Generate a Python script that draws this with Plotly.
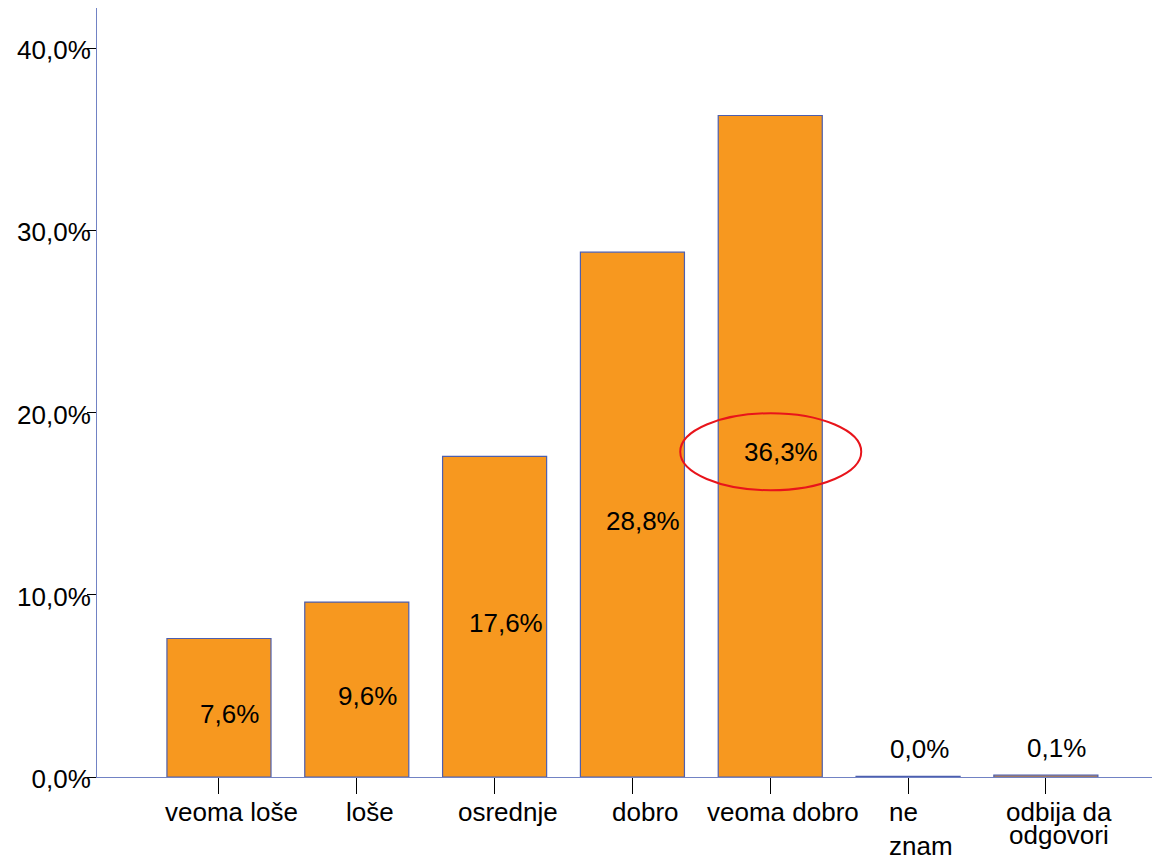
import numpy as np
import plotly.graph_objects as go

categories = ["veoma loše", "loše", "osrednje", "dobro", "veoma dobro", "ne znam", "odbija da odgovori"]
# "\n" = tight line break, "<br>" = normal line break (as in the original)
tick_labels = ["veoma loše", "loše", "osrednje", "dobro", "veoma dobro", "ne<br>znam", "odbija da\nodgovori"]
percent = [7.6, 9.6, 17.6, 28.8, 36.3, 0.04, 0.1]
y_ticks = [0, 10, 20, 30, 40]

FONT = "Liberation Sans, Arial, sans-serif"
ORANGE = "#F7981F"
AXIS_BLUE = "#7182C4"
BAR_EDGE = "#4D5FAE"


def fmt(v):
    return f"{v:.1f}".replace(".", ",") + "%"


fig = go.Figure(
    go.Bar(
        x=categories,
        y=percent,
        width=0.755,
        marker=dict(color=ORANGE, line=dict(color=BAR_EDGE, width=1.2)),
        hoverinfo="skip",
    )
)

# value labels: inside the bar (middle) or above it when the bar is too short
for cat, v in zip(categories, percent):
    if v >= 2:
        fig.add_annotation(x=cat, y=v / 2, text=fmt(v), showarrow=False,
                           xshift=11, yshift=-6, yanchor="middle")
    else:
        fig.add_annotation(x=cat, y=v, text=fmt(v), showarrow=False,
                           xshift=11, yshift=10, yanchor="bottom")

# category labels under the axis
for cat, lab in zip(categories, tick_labels):
    for j, line in enumerate(lab.split("\n")):
        fig.add_annotation(x=cat, y=0, text=line, showarrow=False, align="left",
                           xshift=13, yshift=-18 - 23 * j, yanchor="top")

# red ellipse highlighting the largest bar's label
top = int(np.argmax(percent))
fig.add_shape(type="circle", xref="x", yref="y",
              xsizemode="pixel", xanchor=categories[top], x0=-90, x1=91,
              ysizemode="pixel", yanchor=percent[top] / 2, y0=-44, y1=33,
              line=dict(color="#E8141B", width=2))

fig.update_layout(
    width=1152, height=865,
    margin=dict(l=97, r=0, t=8, b=88, autoexpand=False),
    paper_bgcolor="white", plot_bgcolor="white",
    showlegend=False,
    font=dict(family=FONT, size=26, color="black"),
    xaxis=dict(range=[-0.885, 6.77], showgrid=False, zeroline=False,
               showline=True, linecolor=AXIS_BLUE, linewidth=1,
               ticks="outside", ticklen=16, tickcolor="black",
               showticklabels=False, automargin=False),
    yaxis=dict(range=[0, 42.2], showgrid=False, zeroline=False,
               showline=True, linecolor=AXIS_BLUE, linewidth=1,
               tickvals=y_ticks, ticktext=[fmt(t) for t in y_ticks],
               ticks="outside", ticklen=9, tickcolor="black",
               ticklabelstandoff=-9, ticklabelshift=2, automargin=False,
               tickfont=dict(size=26, color="black")),
)

fig.write_html("out.html", config={"displayModeBar": False},
               post_script="document.body.style.margin='0';")
